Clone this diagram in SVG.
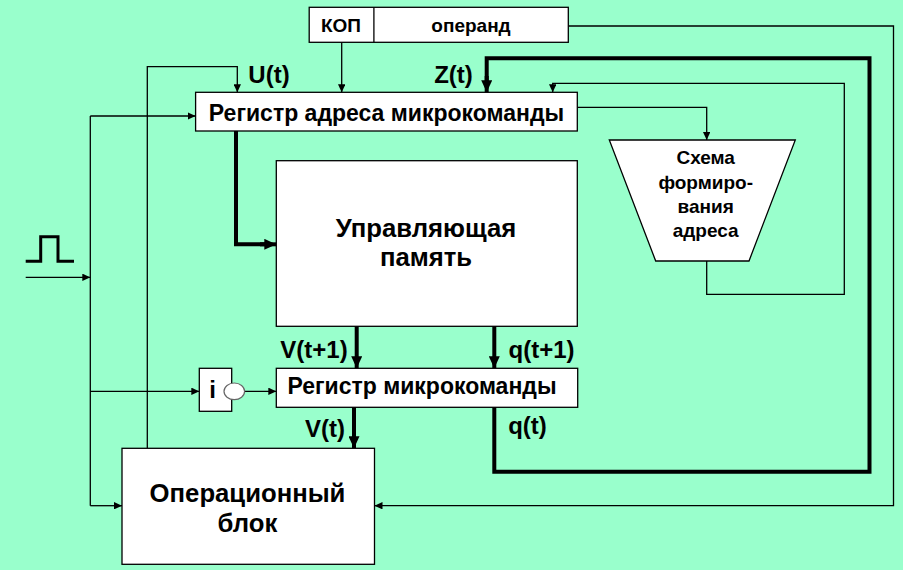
<svg xmlns="http://www.w3.org/2000/svg" width="903" height="570" viewBox="0 0 903 570">
<style>
.box{fill:#fff;stroke:#000;stroke-width:1.3}
.t{font-family:"Liberation Sans",Arial,sans-serif;font-weight:bold;fill:#000;text-anchor:middle}
.thin{fill:none;stroke:#000;stroke-width:1.3}
.thick{fill:none;stroke:#000;stroke-width:4;stroke-linejoin:miter;stroke-linecap:square}
.ta{marker-end:url(#a)}
.tk{marker-end:url(#b)}
</style>
<defs>
<marker id="a" markerUnits="userSpaceOnUse" viewBox="0 0 8 7.4" refX="8" refY="3.7" markerWidth="8" markerHeight="7.4" orient="auto"><path d="M0,0L8,3.7L0,7.4z" fill="#000"/></marker>
<marker id="b" markerUnits="userSpaceOnUse" viewBox="0 0 12 11" refX="12" refY="5.5" markerWidth="12" markerHeight="11" orient="auto"><path d="M0,0L12,5.5L0,11z" fill="#000"/></marker>
</defs>
<rect width="903" height="570" fill="#99ffcc"/>
<g id="connectors">
<path class="thin ta" d="M341.7,42.3V92.3"/>
<path class="thin ta" d="M147.3,448.3V66.7H237.3V92.3"/>
<path class="thick" d="M494.3,409V471.7H869.5V58.3H486.7V80"/>
<path class="thick tk" d="M486.7,78V92.3"/>
<path class="thin ta" d="M706.7,261V294.3H844.3V83.3H552.7V92.3"/>
<path class="thin ta" d="M577.3,107.3H706.7V140"/>
<path class="thin ta" d="M568.3,26H893.5V505.7H374.5"/>
<path class="thick" d="M236,133V244.3H265"/>
<path class="thick tk" d="M262,244.3H276.3"/>
<path class="thin ta" d="M25.7,277.3H90.3"/>
<path class="thin" d="M90.3,116V505.7"/>
<path class="thin ta" d="M90.3,116H195.6"/>
<path class="thin ta" d="M90.3,391.3H199.3"/>
<path class="thin ta" d="M90.3,505.7H122"/>
<path class="thin ta" d="M244.7,391.3H276.3"/>
<path class="thick tk" d="M356.7,328V368.3"/>
<path class="thick tk" d="M494.3,328V368.3"/>
<path class="thick tk" d="M354,409V448.3"/>
<polyline fill="none" stroke="#000" stroke-width="3" points="25.7,261.3 40.7,261.3 40.7,236.7 58,236.7 58,261.3 74,261.3"/>
</g>
<g id="kop">
<rect class="box" x="309.2" y="7.3" width="259.1" height="35"/>
<line x1="373.9" y1="7.3" x2="373.9" y2="42.3" stroke="#000" stroke-width="1.3"/>
<text class="t" x="341" y="31.5" font-size="19">КОП</text>
<text class="t" x="471" y="31.5" font-size="19">операнд</text>
</g>
<g id="rar">
<rect class="box" x="195.6" y="92.3" width="381.7" height="38.7"/>
<text class="t" x="386.5" y="120.5" font-size="23">Регистр адреса микрокоманды</text>
</g>
<g id="labels">
<text class="t" x="269" y="83" font-size="24">U(t)</text>
<text class="t" x="453.5" y="83" font-size="24">Z(t)</text>
<text class="t" x="314" y="358.3" font-size="24">V(t+1)</text>
<text class="t" x="541.5" y="358.3" font-size="24">q(t+1)</text>
<text class="t" x="325" y="437" font-size="24">V(t)</text>
<text class="t" x="527.5" y="434" font-size="24">q(t)</text>
</g>
<g id="memory">
<rect class="box" x="276.3" y="160.7" width="301" height="165.6"/>
<text class="t" x="426" y="236.7" font-size="25.7">Управляющая</text>
<text class="t" x="426" y="266" font-size="25.7">память</text>
</g>
<g id="addrgen">
<polygon class="box" points="609.3,140 795.3,140 749,261 655.7,261"/>
<text class="t" x="705.7" y="164" font-size="19">Схема</text>
<text class="t" x="705.7" y="188.7" font-size="19">формиро-</text>
<text class="t" x="705.7" y="213.3" font-size="19">вания</text>
<text class="t" x="705.7" y="236.7" font-size="19">адреса</text>
</g>
<g id="inv">
<rect class="box" x="199.3" y="368.3" width="32.4" height="43"/>
<text class="t" x="212.7" y="398.3" font-size="24">i</text>
<ellipse cx="234.3" cy="391.3" rx="10.3" ry="8.3" fill="#fff" stroke="#666" stroke-width="1.2"/>
</g>
<g id="mir">
<rect class="box" x="276.3" y="368.3" width="301.4" height="39"/>
<text class="t" x="422" y="394.3" font-size="23">Регистр микрокоманды</text>
</g>
<g id="opblock">
<rect class="box" x="122" y="448.3" width="252.5" height="116"/>
<text class="t" x="247.5" y="501.5" font-size="25.7">Операционный</text>
<text class="t" x="247.5" y="531.5" font-size="25.7">блок</text>
</g>
</svg>
